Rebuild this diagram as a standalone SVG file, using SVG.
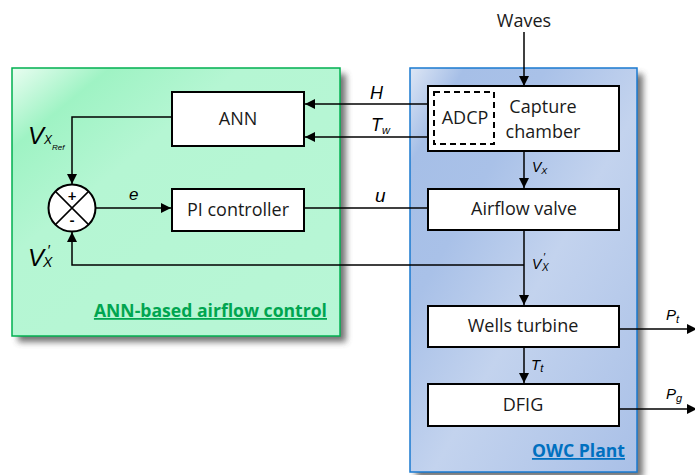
<svg xmlns="http://www.w3.org/2000/svg" width="695" height="475" viewBox="0 0 695 475">
<defs>
<style>
.box{fill:#fff;stroke:#000;stroke-width:2}
.t{font-family:"Open Sans",Lato,sans-serif;font-size:18px;fill:#1a1a1a;text-anchor:middle}
.hd{font-family:"Open Sans",Lato,sans-serif;font-weight:bold;font-size:17.6px;text-decoration:underline;text-anchor:end}
.m{font-family:"Liberation Sans",Arial,sans-serif;font-style:italic;fill:#000}
.ln{fill:none;stroke:#000;stroke-width:1.5}
</style>
<linearGradient id="gg" x1="0" y1="0" x2="1" y2="1">
<stop offset="0" stop-color="#e9fdf1"/>
<stop offset="0.15" stop-color="#9ff3c4"/>
<stop offset="0.35" stop-color="#b5f6d3"/>
<stop offset="1" stop-color="#b8f6d6"/>
</linearGradient>
<linearGradient id="bg" x1="0" y1="0" x2="1" y2="1">
<stop offset="0" stop-color="#dde6f5"/>
<stop offset="0.12" stop-color="#a6bfe7"/>
<stop offset="0.3" stop-color="#a9c1e8"/>
<stop offset="0.55" stop-color="#c3d3ee"/>
<stop offset="1" stop-color="#a9c0e7"/>
</linearGradient>
<filter id="sh" x="-10%" y="-10%" width="130%" height="130%">
<feGaussianBlur stdDeviation="3"/>
</filter>
<marker id="ar2" viewBox="0 0 10 10" refX="10" refY="5" markerWidth="10" markerHeight="10" markerUnits="userSpaceOnUse" orient="auto">
<path d="M0,0 L10,5 L0,10 z" fill="#000"/>
</marker>
</defs>

<g id="panel-ann">
<rect x="18" y="74" width="328" height="268" fill="#444" opacity="0.75" filter="url(#sh)"/>
<rect x="12" y="68" width="328" height="268" fill="url(#gg)" stroke="#00b050" stroke-width="1.5"/>
<text class="hd" x="327" y="317" fill="#00a550">ANN-based airflow control</text>
</g>

<g id="panel-owc">
<rect x="416" y="74" width="227" height="404" fill="#444" opacity="0.75" filter="url(#sh)"/>
<rect x="410" y="68" width="227" height="404" fill="url(#bg)" stroke="#1a7ad0" stroke-width="1.5"/>
<text class="hd" x="625" y="457" fill="#0070c0">OWC Plant</text>
</g>

<g id="connectors">
<line class="ln" x1="524" y1="32" x2="524" y2="86" marker-end="url(#ar2)"/>
<line class="ln" x1="434" y1="104" x2="305" y2="104" marker-end="url(#ar2)"/>
<line class="ln" x1="434" y1="137" x2="305" y2="137" marker-end="url(#ar2)"/>
<polyline class="ln" points="172,117 72,117 72,184" marker-end="url(#ar2)"/>
<line class="ln" x1="96" y1="208" x2="171" y2="208" marker-end="url(#ar2)"/>
<line class="ln" x1="304" y1="208" x2="428" y2="208"/>
<line class="ln" x1="524" y1="151" x2="524" y2="188" marker-end="url(#ar2)"/>
<line class="ln" x1="524" y1="230" x2="524" y2="305" marker-end="url(#ar2)"/>
<polyline class="ln" points="524,265 72,265 72,232" marker-end="url(#ar2)"/>
<line class="ln" x1="524" y1="347" x2="524" y2="383" marker-end="url(#ar2)"/>
<line class="ln" x1="619" y1="329" x2="697" y2="329" marker-end="url(#ar2)"/>
<line class="ln" x1="619" y1="409" x2="697" y2="409" marker-end="url(#ar2)"/>
</g>

<g id="node-ann">
<rect class="box" x="172" y="92" width="132" height="54"/>
<text class="t" x="238" y="125">ANN</text>
</g>
<g id="node-pi">
<rect class="box" x="172" y="189" width="132" height="42"/>
<text class="t" x="238" y="216">PI controller</text>
</g>
<g id="node-sum">
<circle cx="72" cy="208" r="23.5" fill="#fff" stroke="#000" stroke-width="2"/>
<path d="M55.4,191.4 L88.6,224.6 M88.6,191.4 L55.4,224.6" stroke="#000" stroke-width="1.5"/>
<text x="72" y="201" text-anchor="middle" font-family="Lato,sans-serif" font-weight="bold" font-size="15">+</text>
<text x="72" y="226" text-anchor="middle" font-family="Lato,sans-serif" font-weight="bold" font-size="15">-</text>
</g>
<g id="node-capture">
<rect class="box" x="428" y="86" width="191" height="65"/>
<rect x="434" y="92" width="60" height="52" fill="none" stroke="#000" stroke-width="2" stroke-dasharray="6,4"/>
<text class="t" x="465" y="124">ADCP</text>
<text class="t" x="543" y="113">Capture</text>
<text class="t" x="543" y="138">chamber</text>
</g>
<g id="node-valve">
<rect class="box" x="428" y="189" width="191" height="41"/>
<text class="t" x="524" y="215">Airflow valve</text>
</g>
<g id="node-turbine">
<rect class="box" x="428" y="306" width="191" height="41"/>
<text class="t" x="523" y="332">Wells turbine</text>
</g>
<g id="node-dfig">
<rect class="box" x="428" y="384" width="191" height="42"/>
<text class="t" x="523" y="411">DFIG</text>
</g>

<g id="labels">
<text class="t" x="524" y="27">Waves</text>
<text class="m" x="370" y="99" font-size="18">H</text>
<text class="m" x="371" y="131" font-size="18">T<tspan font-size="11" dy="3">w</tspan></text>
<text class="m" x="375" y="202" font-size="19">u</text>
<text class="m" x="129" y="200" font-size="17">e</text>
<text class="m" x="532" y="172" font-size="14">V<tspan font-size="9" dy="2">X</tspan></text>
<text class="m" x="532" y="269" font-size="14">V<tspan font-size="11" x="543" y="261">′</tspan><tspan font-size="10" x="542" y="271">X</tspan></text>
<text class="m" x="531" y="370" font-size="15">T<tspan font-size="11" dy="2">t</tspan></text>
<text class="m" x="666" y="320" font-size="15">P<tspan font-size="11" dy="3">t</tspan></text>
<text class="m" x="666" y="399" font-size="15">P<tspan font-size="11" dy="3">g</tspan></text>
<text class="m" x="28" y="144" font-size="24">V<tspan font-size="12" x="44" y="144">X</tspan><tspan font-size="8" x="52" y="150">Ref</tspan></text>
<text class="m" x="28" y="266" font-size="24">V<tspan font-size="15" x="47" y="255">′</tspan><tspan font-size="14" x="43" y="267">X</tspan></text>
</g>
</svg>
